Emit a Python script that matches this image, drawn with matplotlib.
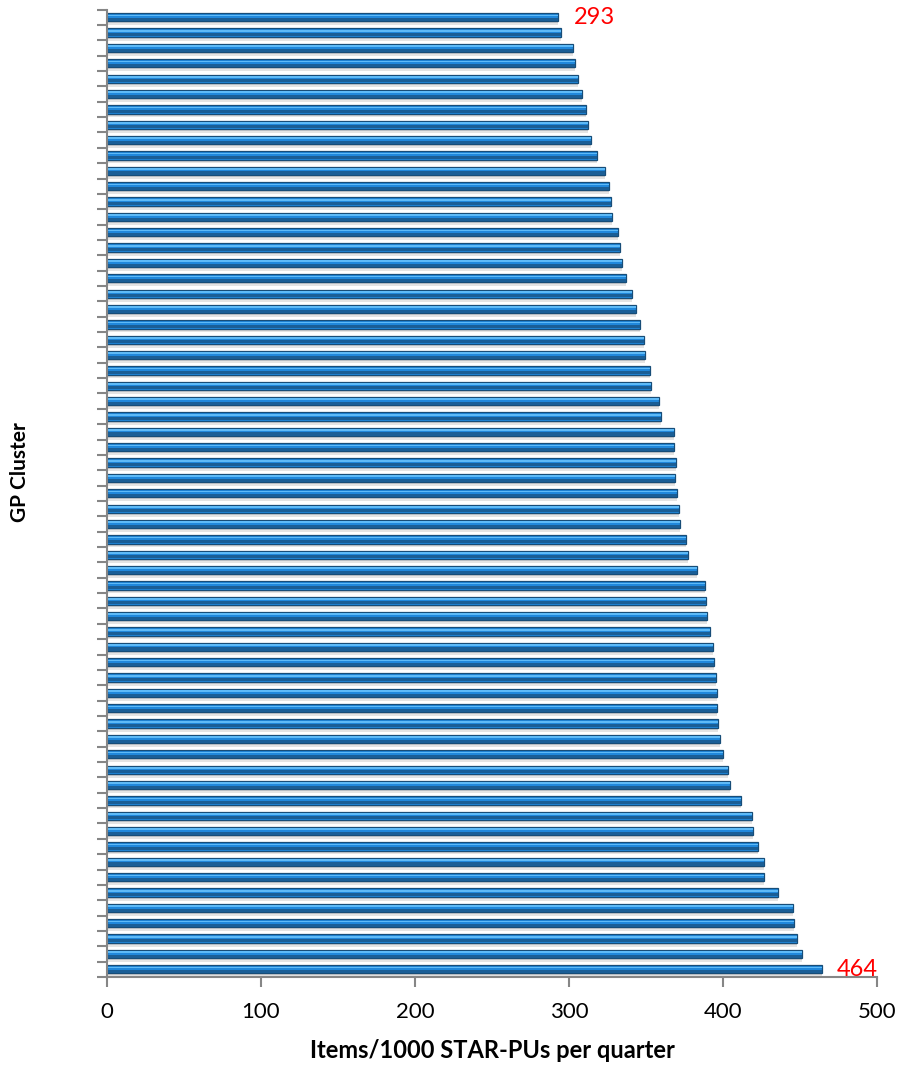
import matplotlib
matplotlib.use("Agg")
import matplotlib.pyplot as plt
import numpy as np

# Data: GP clusters, top to bottom as shown
values = [293.0, 294.8, 302.4, 304.1, 305.8, 308.7, 310.8, 312.6, 314.1, 318.4,
          323.4, 326.2, 327.1, 327.9, 332.0, 332.9, 334.6, 337.2, 341.1, 343.7,
          346.3, 348.5, 349.1, 352.6, 353.0, 358.7, 359.7, 368.0, 368.4, 369.3,
          369.0, 369.9, 371.6, 372.3, 376.0, 377.1, 383.1, 388.1, 389.2, 389.6,
          391.4, 393.5, 394.4, 395.2, 395.9, 395.9, 396.5, 398.1, 400.0, 403.0,
          404.3, 411.7, 419.0, 419.5, 422.9, 426.4, 426.4, 435.7, 445.2, 446.3,
          448.1, 451.1, 464.0]
xticks = [0, 100, 200, 300, 400, 500]
xlabel = "Items/1000 STAR-PUs per quarter"
ylabel = "GP Cluster"
annot_idx = [0, len(values) - 1]
annot_text = ["293", "464"]

plt.rcParams['font.family'] = ['Lato', 'DejaVu Sans']

fig = plt.figure(figsize=(9, 10.66), dpi=100)
ax = fig.add_axes([107/900, 1 - 977/1066, (877-107)/900, (977-9.6)/1066])

y = np.arange(len(values))
# shadow layers
ax.barh(y + 0.34, values, height=0.26, color='#cdcdcd', linewidth=0, zorder=1)
ax.barh(y + 0.46, values, height=0.12, color='#e4e4e4', linewidth=0, zorder=1)
# main bar
ax.barh(y, values, height=0.54, color='#2088dc', edgecolor='#174d78', linewidth=0.9, zorder=2)
# dark lower part
ax.barh(y + 0.14, values, height=0.2, color='#1a5e96', linewidth=0, zorder=3)
# light highlight
ax.barh(y - 0.12, values, height=0.11, color='#5ebaf7', linewidth=0, zorder=3)

ax.set_ylim(len(values) - 0.5, -0.5)
ax.set_xlim(0, 500)
ax.set_xticks(xticks)
ax.set_xticklabels([str(t) for t in xticks], fontsize=16)
ax.set_yticks(np.arange(len(values) + 1) - 0.5)
ax.set_yticklabels([])

for s in ['top', 'right']:
    ax.spines[s].set_visible(False)
for s in ['left', 'bottom']:
    ax.spines[s].set_color('#868686')
    ax.spines[s].set_linewidth(1.5)
    ax.spines[s].set_zorder(5)
ax.tick_params(axis='both', direction='out', color='#868686', width=1.5, length=7)
ax.tick_params(axis='x', pad=11)

ax.set_xlabel(xlabel, fontsize=17, fontweight='bold', labelpad=12)
fig.text(20/900, 1 - 472/1066, ylabel, rotation=90, fontsize=15, fontweight='bold',
         ha='center', va='center')

for i, t in zip(annot_idx, annot_text):
    ax.annotate(t, xy=(values[i], i), xytext=(11, 0), textcoords='offset points',
                color='red', fontsize=17, ha='left', va='center',
                annotation_clip=False, zorder=6)

fig.savefig("out.png", dpi=100)
